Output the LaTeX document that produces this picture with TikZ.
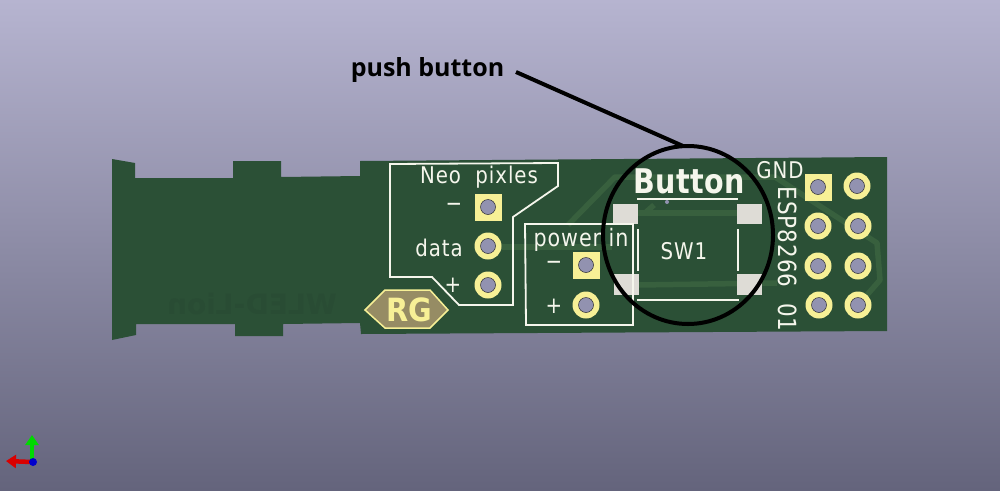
\documentclass[tikz,border=0pt]{standalone}
\usepackage{fontspec}
\setmainfont{Open Sans}
\newfontfamily\silk[LetterSpace=4,FakeStretch=0.86]{DejaVu Sans}
\newfontfamily\silkb[LetterSpace=1,FakeStretch=0.84]{DejaVu Sans Bold}
\newfontfamily\rgfont[FakeStretch=0.9]{DejaVu Sans Bold}
\newfontfamily\lab{Open Sans Bold}
\usetikzlibrary{shapes.geometric,arrows.meta}
\definecolor{pcb}{RGB}{43,80,54}
\definecolor{trk}{RGB}{56,96,62}
\definecolor{ghost}{RGB}{41,76,52}
\definecolor{silkc}{RGB}{245,246,236}
\definecolor{padc}{RGB}{247,240,150}
\definecolor{smd}{RGB}{222,220,214}
\definecolor{holec}{RGB}{146,146,176}
\definecolor{hexc}{RGB}{150,140,100}
\tikzset{
  x=1pt,y=-1pt,
  silkline/.style={draw=silkc,line width=1.8pt,line join=miter},
  track/.style={draw=trk,line width=5.5pt,line join=round},
  smdpad/.style={fill=smd},
  silktext/.style={text=silkc,inner sep=0pt,font=\silk\fontsize{23}{23}\selectfont},
  roundpad/.style={circle,fill=padc,minimum size=27pt,inner sep=0pt},
  squarepad/.style={rectangle,fill=padc,minimum size=27pt,inner sep=0pt},
  drill/.style={circle,fill=holec,draw=black!70!holec,line width=.5pt,minimum size=15pt,inner sep=0pt},
  callout/.style={draw=black,line width=4pt},
}
\begin{document}
\begin{tikzpicture}
\useasboundingbox (0,0) rectangle (1000,490);
\shade[top color={rgb,255:red,182;green,180;blue,208},bottom color={rgb,255:red,100;green,100;blue,124}] (0,0) rectangle (1000,490);
% board
\fill[pcb] (112,159) -- (135,163) -- (135,178) -- (233,178) -- (233,161) -- (281,161) -- (281,177) -- (360,176) -- (360,161) -- (887,157) -- (887,331) -- (361,334) -- (360,323) -- (283,324) -- (283,336) -- (235,336) -- (235,324) -- (136,324) -- (136,335) -- (112,340) -- cycle;
% mirrored ghost text from back side
\node[text=ghost,inner sep=0pt,xscale=-1,font=\fontspec{DejaVu Sans Bold}\fontsize{28}{28}\selectfont] (ghosttext) at (252,304) {WLED-Lion};
% tracks
\draw[track] (500,247) -- (612,247);
\draw[track] (568,225) -- (615,177) -- (775,177) -- (877,243) -- (880,280) -- (860,303);
\draw[track] (638,213) -- (737,213);
\draw[track] (638,285) -- (777,283);
\draw[track] (654,205) -- (645,213);
% smd pads
\fill[smdpad] (613,204) rectangle (638,224);
\fill[smdpad] (737,204) rectangle (762,224);
\fill[smdpad] (614,274) rectangle (639,295);
\fill[smdpad] (737,274) rectangle (762,295);
% silkscreen outlines
\draw[silkline] (390,164) -- (558,163) -- (558,186) -- (513,217) -- (513,305) -- (459,305) -- (432,277) -- (390,277) -- cycle;
\draw[silkline] (525,224) -- (633,224) -- (633,325) -- (526,325) -- cycle;
\draw[silkline] (637,199) -- (738,199);
\draw[silkline] (638,229) -- (638,271);
\draw[silkline] (738,229) -- (738,271);
\draw[silkline] (637,300) -- (739,300);
\fill[holec] (667,202) circle (2pt);
% pads
\node[squarepad] (n1) at (488,207) {};
\node[roundpad] (n2) at (488,246) {};
\node[roundpad] (n3) at (488,285) {};
\node[squarepad] (p1) at (586,265) {};
\node[roundpad] (p2) at (586,305) {};
\node[squarepad] (h1) at (818,187) {};
\node[roundpad] (h2) at (857,186) {};
\node[roundpad] (h3) at (818,226) {};
\node[roundpad] (h4) at (858,226) {};
\node[roundpad] (h5) at (818,266) {};
\node[roundpad] (h6) at (858,266) {};
\node[roundpad] (h7) at (819,305) {};
\node[roundpad] (h8) at (858,305) {};
\foreach \p in {n1,n2,n3,p1,p2,h1,h2,h3,h4,h5,h6,h7,h8}
  \node[drill] (d\p) at (\p) {};
% silk labels
\node[silktext] (neo) at (479,177) {Neo\ \ pixles};
\node[silktext] (nminus) at (454,207) {−};
\node[silktext] (ndata) at (439,248) {data};
\node[silktext] (nplus) at (453,285) {+};
\node[silktext,font=\silk\fontsize{24}{24}\selectfont] (pin) at (581,240) {power\ in};
\node[silktext] (pminus) at (554,265) {−};
\node[silktext] (pplus) at (554,306) {+};
\node[silktext] (swone) at (684,251) {SW1};
\node[silktext] (gnd) at (780,170) {GND};
\node[silktext,rotate=-90,font=\silk\fontsize{25}{25}\selectfont] (esp) at (788,259) {ESP8266\ \ 01};
\node[text=silkc,inner sep=0pt,font=\silkb\fontsize{34}{34}\selectfont] (btn) at (689,181) {Button};
% RG logo
\draw[draw=padc,fill=hexc,line width=1.5pt] (365,310) -- (385,290) -- (430,290) -- (448,310) -- (430,328) -- (385,328) -- cycle;
\node[text=padc,inner sep=0pt,font=\rgfont\fontsize{32}{32}\selectfont] (rg) at (409,310) {RG};
% callout
\node[inner sep=0pt,font=\lab\fontsize{25}{25}\selectfont] (pb) at (427.5,70) {push button};
\node[ellipse,callout,minimum width=170pt,minimum height=178pt,inner sep=0pt] (ring) at (688,235) {};
\coordinate (ls) at (516,72);
\coordinate (le) at (683,146);
\draw[callout] (ls) -- (le);
% axes
\coordinate (o) at (32,462);
\coordinate (ox) at (6,461);
\coordinate (oy) at (32,435);
\draw[green!85!black,line width=4.5pt,-{Triangle[length=10pt,width=13pt]}] (o) -- (oy);
\draw[red!85!black,line width=4.5pt,-{Triangle[length=10pt,width=13pt]}] (o) -- (ox);
\fill[blue!80!black] (33,462) circle (4pt);
\end{tikzpicture}
\end{document}
